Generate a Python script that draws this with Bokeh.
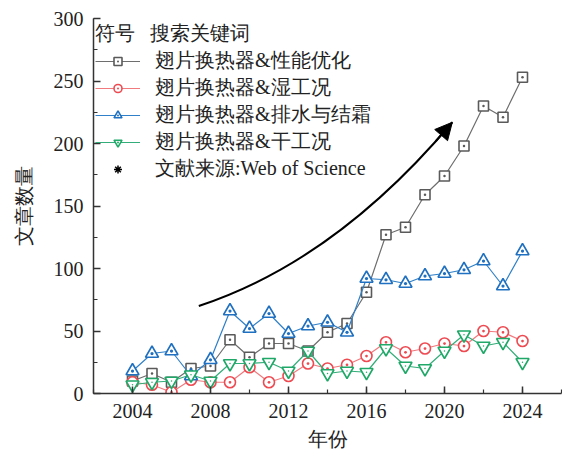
from bokeh.plotting import figure
from bokeh.models import Legend, LegendItem, Range1d, FixedTicker, Arrow, NormalHead
from bokeh.embed import file_html
from bokeh.resources import INLINE

years = list(range(2004, 2025))
perf = [10, 16, 9, 20, 22, 43, 29, 40, 40, 34, 49, 56, 81, 127, 133, 159, 174, 198, 230, 221, 253]
wet = [9, 7, 1, 11, 9, 9, 21, 9, 14, 24, 20, 23, 30, 41, 33, 36, 40, 38, 50, 49, 42]
drain = [18, 32, 34, 14, 27, 66, 52, 64, 48, 54, 57, 49, 92, 91, 88, 94, 96, 99, 106, 86, 114]
dry = [7, 9, 10, 15, 10, 24, 24, 25, 18, 34, 16, 18, 17, 36, 22, 20, 34, 47, 38, 41, 25]

labels = ["翅片换热器&性能优化", "翅片换热器&湿工况", "翅片换热器&排水与结霜", "翅片换热器&干工况"]
source_label = "文献来源:Web of Science"
legend_title = "符号   搜索关键词"
x_ticks = [2004, 2008, 2012, 2016, 2020, 2024]
y_ticks = [0, 50, 100, 150, 200, 250, 300]

# trend arrow (annotation): start, control, end
arrow_x = [2007.4, 2014.4, 2020.4]
arrow_y = [70, 106, 217]

SERIF = "Liberation Serif"

p = figure(width=562, height=452, output_backend="svg", toolbar_location=None,
           x_range=Range1d(2002, 2026), y_range=Range1d(0, 300),
           min_border_left=93, min_border_right=1, min_border_top=18, min_border_bottom=59)
p.outline_line_color = None
p.xgrid.visible = False
p.ygrid.visible = False
p.background_fill_color = "white"
p.border_fill_color = "white"

series = [perf, wet, drain, dry]
line_colors = ["#6e6e6e", "#f07a7e", "#2f80c8", "#33ad79"]
mk_colors = ["#5a5a5a", "#ee4a52", "#1f70c0", "#1fa868"]
markers = ["square_dot", "circle_dot", "triangle_dot", "inverted_triangle"]
sizes = [10, 11, 13, 13]

items = []
for s, lc, mc, mk, sz, lab in zip(series, line_colors, mk_colors, markers, sizes, labels):
    r1 = p.line(years, s, line_color=lc, line_width=1.2)
    r2 = p.scatter(years, s, marker=mk, size=sz, line_color=mc, fill_color="white", line_width=1.6)
    rends = [r1, r2]
    if mk == "inverted_triangle":
        r3 = p.scatter(years, s, marker="dot", size=6, line_color=mc, fill_color=mc)
        rends.append(r3)
    items.append(LegendItem(label=lab, renderers=rends))

# legend-only proxy for the "*" source note (NaN: not drawn in the plot)
ast = p.scatter([float("nan")], [float("nan")], marker="asterisk", size=12,
                line_color="black", line_width=1.5)
items.append(LegendItem(label=source_label, renderers=[ast]))

# curved trend arrow
p.quadratic(x0=arrow_x[0], y0=arrow_y[0], x1=arrow_x[2], y1=arrow_y[2],
            cx=arrow_x[1], cy=arrow_y[1], line_color="black", line_width=2)
t = 0.93
xs = (1 - t) ** 2 * arrow_x[0] + 2 * t * (1 - t) * arrow_x[1] + t ** 2 * arrow_x[2]
ys = (1 - t) ** 2 * arrow_y[0] + 2 * t * (1 - t) * arrow_y[1] + t ** 2 * arrow_y[2]
p.add_layout(Arrow(end=NormalHead(size=17, fill_color="black", line_color="black"),
                   x_start=xs, y_start=ys, x_end=arrow_x[2], y_end=arrow_y[2],
                   line_color="black", line_width=2))

legend = Legend(items=items, location="top_left", title=legend_title)
legend.border_line_color = None
legend.background_fill_alpha = 0
legend.margin = 2
legend.padding = 0
legend.spacing = 0
legend.glyph_width = 45
legend.glyph_height = 20
legend.label_height = 20
legend.label_standoff = 15
legend.label_text_font = SERIF
legend.label_text_font_size = "20px"
legend.label_text_color = "#222222"
legend.title_text_font = SERIF
legend.title_text_font_size = "20px"
legend.title_text_font_style = "normal"
legend.title_text_color = "#222222"
legend.title_standoff = 0
p.add_layout(legend)

for ax in (p.xaxis[0], p.yaxis[0]):
    ax.axis_line_color = "#333333"
    ax.axis_line_width = 1.5
    ax.major_tick_line_color = "#333333"
    ax.minor_tick_line_color = "#333333"
    ax.major_tick_line_width = 1.5
    ax.minor_tick_line_width = 1.2
    ax.major_tick_in = 7
    ax.major_tick_out = 0
    ax.minor_tick_in = 4
    ax.minor_tick_out = 0
    ax.major_label_text_font = SERIF
    ax.major_label_text_font_size = "20px"
    ax.major_label_text_color = "#222222"
    ax.axis_label_text_font = SERIF
    ax.axis_label_text_font_size = "20px"
    ax.axis_label_text_font_style = "normal"
    ax.axis_label_text_color = "#222222"

p.xaxis.ticker = FixedTicker(ticks=x_ticks, minor_ticks=list(range(2002, 2027, 2)))
p.yaxis.ticker = FixedTicker(ticks=y_ticks, minor_ticks=list(range(0, 301, 25)))
p.xaxis.axis_label = "年份"
p.yaxis.axis_label = "文章数量"
p.xaxis.major_label_standoff = 10
p.yaxis.major_label_standoff = 10
p.xaxis.axis_label_standoff = 7
p.yaxis.axis_label_standoff = 16

open("out.html", "w").write(file_html(p, INLINE))
